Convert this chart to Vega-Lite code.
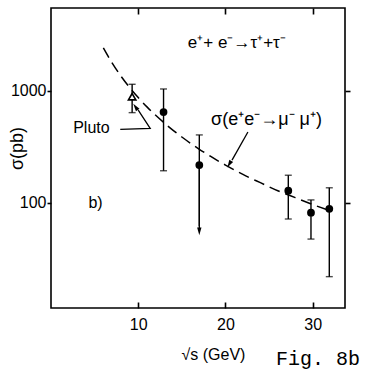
{
  "$schema": "https://vega.github.io/schema/vega-lite/v6.json",
  "width": 294,
  "height": 300,
  "autosize": "none",
  "padding": {"left": 51, "top": 8, "right": 26, "bottom": 67},
  "background": "white",
  "config": {
    "view": {"stroke": "black", "strokeWidth": 1.6},
    "font": "Liberation Sans",
    "axis": {"labelFont": "Liberation Sans", "titleFont": "Liberation Sans", "labelColor": "black", "titleColor": "black", "tickColor": "black", "domain": false, "grid": false, "tickWidth": 1.6}
  },
  "resolve": {"axis": {"x": "independent", "y": "independent"}},
  "layer": [
    {
      "data": {"values": [
        {"rs": 9.3, "lo": 637, "hi": 1141},
        {"rs": 12.9, "lo": 193, "hi": 1036},
        {"rs": 17.0, "lo": 56, "hi": 403},
        {"rs": 27.2, "lo": 71.6, "hi": 176},
        {"rs": 29.8, "lo": 47.4, "hi": 106},
        {"rs": 31.9, "lo": 21.9, "hi": 136}
      ]},
      "mark": {"type": "rule", "color": "black", "strokeWidth": 1.4},
      "encoding": {
        "x": {"field": "rs", "type": "quantitative", "scale": {"domain": [0, 33.7], "nice": false, "zero": false},
          "axis": {"orient": "bottom", "values": [10, 20, 30], "tickSize": -6, "labelFontSize": 16, "labelPadding": 14, "title": "√s (GeV)", "titleFontSize": 16, "titleFontWeight": "normal", "titleX": 162, "titleY": 46, "titleAlign": "center", "titleBaseline": "middle"}},
        "y": {"field": "lo", "type": "quantitative", "scale": {"type": "log", "domain": [11.5, 5470], "nice": false, "zero": false},
          "axis": {"orient": "left", "values": [100, 1000], "format": "d", "tickSize": 4, "labelFontSize": 16, "labelPadding": 1, "title": "σ(pb)", "titleFontSize": 18, "titleFontWeight": "normal", "titleX": -34, "titleY": 140, "titleAlign": "center", "titleBaseline": "middle", "titleAngle": -90}},
        "y2": {"field": "hi"}
      }
    },
    {
      "data": {"values": [
        {"rs": 9.3, "v": 637}, {"rs": 9.3, "v": 1141},
        {"rs": 12.9, "v": 193}, {"rs": 12.9, "v": 1036},
        {"rs": 17.0, "v": 403},
        {"rs": 27.2, "v": 71.6}, {"rs": 27.2, "v": 176},
        {"rs": 29.8, "v": 47.4}, {"rs": 29.8, "v": 106},
        {"rs": 31.9, "v": 21.9}, {"rs": 31.9, "v": 136}
      ]},
      "mark": {"type": "tick", "orient": "horizontal", "color": "black", "size": 7, "thickness": 1.4},
      "encoding": {
        "x": {"field": "rs", "type": "quantitative", "axis": null},
        "y": {"field": "v", "type": "quantitative", "axis": null}
      }
    },
    {
      "data": {"values": [
        {"rs": 6, "sig": 2411}, {"rs": 7, "sig": 1771}, {"rs": 8, "sig": 1356}, {"rs": 9, "sig": 1072},
        {"rs": 10, "sig": 868}, {"rs": 11, "sig": 717}, {"rs": 12, "sig": 603}, {"rs": 13, "sig": 514},
        {"rs": 14, "sig": 443}, {"rs": 15, "sig": 386}, {"rs": 16, "sig": 339}, {"rs": 17, "sig": 300},
        {"rs": 18, "sig": 268}, {"rs": 19, "sig": 240}, {"rs": 20, "sig": 217}, {"rs": 22, "sig": 179},
        {"rs": 24, "sig": 151}, {"rs": 26, "sig": 128}, {"rs": 28, "sig": 111}, {"rs": 30, "sig": 96.4},
        {"rs": 32, "sig": 84.8}
      ]},
      "mark": {"type": "line", "color": "black", "strokeWidth": 1.5, "strokeDash": [11, 6], "interpolate": "monotone"},
      "encoding": {
        "x": {"field": "rs", "type": "quantitative",
          "axis": {"orient": "top", "values": [10, 20, 30], "tickSize": -6, "labels": false, "title": null}},
        "y": {"field": "sig", "type": "quantitative",
          "axis": {"orient": "right", "values": [100, 1000], "tickSize": 5, "labels": false, "title": null}}
      }
    },
    {
      "data": {"values": [
        {"rs": 12.9, "v": 645}, {"rs": 17.0, "v": 217}, {"rs": 27.2, "v": 128}, {"rs": 29.8, "v": 81.5}, {"rs": 31.9, "v": 88.3}
      ]},
      "mark": {"type": "point", "shape": "circle", "filled": true, "color": "black", "size": 60, "opacity": 1},
      "encoding": {
        "x": {"field": "rs", "type": "quantitative", "axis": null},
        "y": {"field": "v", "type": "quantitative", "axis": null}
      }
    },
    {
      "data": {"values": [{"rs": 9.3, "v": 884}]},
      "mark": {"type": "point", "shape": "triangle-up", "filled": true, "fill": "white", "stroke": "black", "strokeWidth": 1.6, "size": 55, "opacity": 1},
      "encoding": {
        "x": {"field": "rs", "type": "quantitative", "axis": null},
        "y": {"field": "v", "type": "quantitative", "axis": null}
      }
    },
    {
      "data": {"values": [
        {"seg": "pluto", "ord": 1, "rs": 7.94, "v": 452},
        {"seg": "pluto", "ord": 2, "rs": 11.37, "v": 461},
        {"seg": "pluto", "ord": 3, "rs": 10.0, "v": 670},
        {"seg": "mumu", "ord": 1, "rs": 22.57, "v": 428},
        {"seg": "mumu", "ord": 2, "rs": 20.75, "v": 240},
        {"seg": "tau", "ord": 1, "rs": 17.0, "v": 217},
        {"seg": "tau", "ord": 2, "rs": 17.0, "v": 62}
      ]},
      "mark": {"type": "line", "color": "black", "strokeWidth": 1.3},
      "encoding": {
        "x": {"field": "rs", "type": "quantitative", "axis": null},
        "y": {"field": "v", "type": "quantitative", "axis": null},
        "detail": {"field": "seg"},
        "order": {"field": "ord"}
      }
    },
    {
      "data": {"values": [
        {"rs": 9.77, "v": 701, "ang": 325},
        {"rs": 20.51, "v": 226, "ang": 210},
        {"rs": 17.0, "v": 57, "ang": 180}
      ]},
      "mark": {"type": "point", "shape": "M0,-1.2L0.5,0.6L-0.5,0.6Z", "filled": true, "color": "black", "size": 75, "opacity": 1},
      "encoding": {
        "x": {"field": "rs", "type": "quantitative", "axis": null},
        "y": {"field": "v", "type": "quantitative", "axis": null},
        "angle": {"field": "ang", "type": "quantitative", "scale": null}
      }
    },
    {
      "data": {"values": [
        {"rs": 21.3, "v": 2667, "label": "e⁺+ e⁻→τ⁺+τ⁻", "fs": 17},
        {"rs": 24.7, "v": 547, "label": "σ(e⁺e⁻→μ⁻ μ⁺)", "fs": 18},
        {"rs": 4.63, "v": 464, "label": "Pluto", "fs": 16},
        {"rs": 5.1, "v": 100, "label": "b)", "fs": 16}
      ]},
      "mark": {"type": "text", "color": "black", "align": "center", "baseline": "middle", "font": "Liberation Sans"},
      "encoding": {
        "x": {"field": "rs", "type": "quantitative", "axis": null},
        "y": {"field": "v", "type": "quantitative", "axis": null},
        "text": {"field": "label"},
        "size": {"field": "fs", "type": "quantitative", "scale": null}
      }
    },
    {
      "data": {"values": [{"rs": 30.6, "v": 4.0, "label": "Fig. 8b"}]},
      "mark": {"type": "text", "color": "black", "align": "center", "baseline": "middle", "font": "Liberation Mono", "fontSize": 20, "clip": false},
      "encoding": {
        "x": {"field": "rs", "type": "quantitative", "axis": null},
        "y": {"field": "v", "type": "quantitative", "axis": null},
        "text": {"field": "label"}
      }
    }
  ]
}
